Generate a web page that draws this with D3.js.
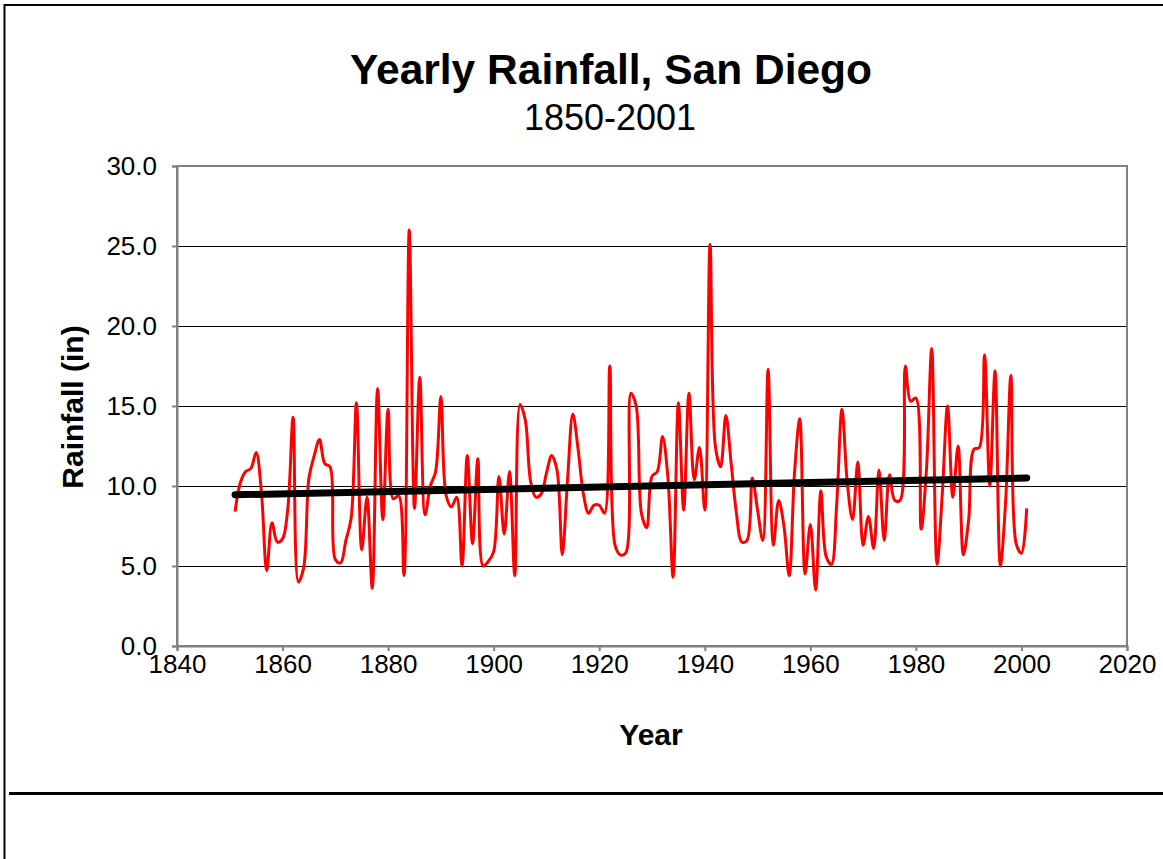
<!DOCTYPE html>
<html>
<head>
<meta charset="utf-8">
<script src="https://cdn.jsdelivr.net/npm/d3@7"></script>
<style>
  body { margin: 0; background: #fff; }
  svg { display: block; font-family: "Liberation Sans", Arial, sans-serif; }
</style>
</head>
<body>
<div id="chart"></div>
<script>
// yearly rainfall, San Diego (inches), one value per year from 1851
var firstYear = 1851;
var rain1850s = [8.4, 10.2, 10.9, 11.1, 12.1, 9.6, 4.7, 7.7, 6.5];
var rain1860s = [6.7, 8.6, 14.3, 4.0, 4.9, 10.5, 11.9, 12.9, 11.4, 11.2];
var rain1870s = [5.4, 5.2, 6.6, 8.0, 15.2, 6.0, 9.3, 3.6, 16.1, 7.9];
var rain1880s = [14.8, 9.2, 9.4, 4.4, 26.0, 8.6, 16.8, 8.2, 10.0, 10.9];
var rain1890s = [15.6, 9.4, 8.7, 9.3, 5.0, 11.9, 6.4, 11.7, 5.0, 5.3];
var rain1900s = [5.9, 10.6, 7.0, 10.9, 4.4, 15.1, 14.1, 10.3, 9.3, 9.5];
var rain1910s = [10.8, 11.9, 11.0, 5.7, 10.4, 14.5, 12.3, 9.5, 8.3, 8.8];
var rain1920s = [8.8, 8.3, 17.5, 6.3, 5.7, 5.8, 15.8, 15.0, 8.3, 7.4];
var rain1930s = [10.6, 10.9, 13.1, 10.6, 4.3, 15.2, 8.5, 15.8, 10.4, 12.4];
var rain1940s = [8.5, 25.1, 12.5, 11.2, 14.4, 11.4, 8.3, 6.5, 6.6, 10.5];
var rain1950s = [8.5, 6.6, 17.3, 6.3, 9.1, 7.5, 4.4, 10.8, 14.2, 4.5];
var rain1960s = [7.6, 3.5, 9.7, 5.6, 5.1, 8.9, 14.8, 10.2, 7.9, 11.5];
var rain1970s = [6.3, 8.1, 6.1, 11.0, 6.6, 10.7, 9.1, 9.1, 17.5, 15.3];
var rain1980s = [15.5, 7.3, 11.0, 18.6, 5.1, 9.5, 15.0, 9.3, 12.5, 5.7];
var rain1990s = [7.9, 12.3, 12.4, 18.2, 10.0, 17.2, 5.0, 9.0, 16.9, 6.4];
var rain2000s = [5.8, 8.6];

// linear trend line ends as drawn
var trendYears = [1851, 2001];
var trendValues = [9.45, 10.5];

var xTicks = [1840, 1860, 1880, 1900, 1920, 1940, 1960, 1980, 2000, 2020];
var yTicks = [0, 5, 10, 15, 20, 25, 30];

var chartTitle = "Yearly Rainfall, San Diego";
var chartSubtitle = "1850-2001";
var xTitle = "Year";
var yTitle = "Rainfall (in)";

var rain = [].concat(rain1850s, rain1860s, rain1870s, rain1880s, rain1890s,
    rain1900s, rain1910s, rain1920s, rain1930s, rain1940s, rain1950s,
    rain1960s, rain1970s, rain1980s, rain1990s, rain2000s);
var data = rain.map(function(v, i) { return {year: firstYear + i, value: v}; });
var trend = trendYears.map(function(y, i) { return {year: y, value: trendValues[i]}; });

var W = 1163, H = 859;
var margin = {top: 166, right: 36, bottom: 213, left: 177},
    width = 1127 - margin.left,
    height = 646 - margin.top;

var svg = d3.select("#chart").append("svg")
    .attr("width", W)
    .attr("height", H);

// page frame lines
svg.append("line").attr("x1", 4.5).attr("x2", 4.5).attr("y1", 4).attr("y2", H)
    .attr("stroke", "#000").attr("stroke-width", 2);
svg.append("line").attr("x1", 4).attr("x2", W).attr("y1", 5).attr("y2", 5)
    .attr("stroke", "#000").attr("stroke-width", 2);
svg.append("line").attr("x1", 9).attr("x2", W).attr("y1", 793.5).attr("y2", 793.5)
    .attr("stroke", "#000").attr("stroke-width", 3);

var g = svg.append("g")
    .attr("transform", "translate(" + margin.left + "," + margin.top + ")");

var x = d3.scaleLinear().domain([1840, 2020]).range([0, width]);
var y = d3.scaleLinear().domain([0, 30]).range([height, 0]);

// gridlines
g.append("g")
    .attr("class", "grid")
    .call(d3.axisLeft(y).tickValues(yTicks).tickSize(-width).tickFormat(""))
    .call(function(s) {
        s.select(".domain").remove();
        s.selectAll("line").attr("stroke", "#000").attr("stroke-width", 1);
    });

// plot border
g.append("rect")
    .attr("x", 0).attr("y", 0)
    .attr("width", width).attr("height", height)
    .attr("fill", "none")
    .attr("stroke", "#808080")
    .attr("stroke-width", 2);

// x axis
g.append("g")
    .attr("transform", "translate(0," + height + ")")
    .call(d3.axisBottom(x).tickValues(xTicks).tickSize(5).tickPadding(4).tickFormat(d3.format("d")))
    .call(function(s) {
        s.select(".domain").attr("stroke", "#808080").attr("stroke-width", 2);
        s.selectAll(".tick line").attr("stroke", "#808080").attr("stroke-width", 2);
        s.selectAll("text").attr("fill", "#000").style("font-size", "26px");
    });

// y axis
g.append("g")
    .call(d3.axisLeft(y).tickValues(yTicks).tickSize(5).tickPadding(15).tickFormat(d3.format(".1f")))
    .call(function(s) {
        s.select(".domain").attr("stroke", "#808080").attr("stroke-width", 2);
        s.selectAll(".tick line").attr("stroke", "#808080").attr("stroke-width", 2);
        s.selectAll("text").attr("fill", "#000").style("font-size", "26px");
    });

// rainfall line (smoothed)
var line = d3.line()
    .x(function(d) { return x(d.year); })
    .y(function(d) { return y(d.value); })
    .curve(d3.curveCatmullRom.alpha(0.5));

g.append("path")
    .datum(data)
    .attr("fill", "none")
    .attr("stroke", "#ff0000")
    .attr("stroke-width", 3)
    .attr("stroke-linejoin", "round")
    .attr("d", line);

// trend line
g.append("path")
    .datum(trend)
    .attr("fill", "none")
    .attr("stroke", "#000")
    .attr("stroke-width", 7)
    .attr("stroke-linecap", "round")
    .attr("d", d3.line()
        .x(function(d) { return x(d.year); })
        .y(function(d) { return y(d.value); }));

// titles
svg.append("text")
    .attr("x", 611).attr("y", 84)
    .attr("text-anchor", "middle")
    .style("font-size", "42.5px")
    .style("font-weight", "bold")
    .text(chartTitle);

svg.append("text")
    .attr("x", 610).attr("y", 130)
    .attr("text-anchor", "middle")
    .style("font-size", "36px")
    .text(chartSubtitle);

svg.append("text")
    .attr("x", 651).attr("y", 745)
    .attr("text-anchor", "middle")
    .style("font-size", "30px")
    .style("font-weight", "bold")
    .text(xTitle);

svg.append("text")
    .attr("transform", "translate(83,407) rotate(-90)")
    .attr("text-anchor", "middle")
    .style("font-size", "30px")
    .style("font-weight", "bold")
    .text(yTitle);
</script>
</body>
</html>
